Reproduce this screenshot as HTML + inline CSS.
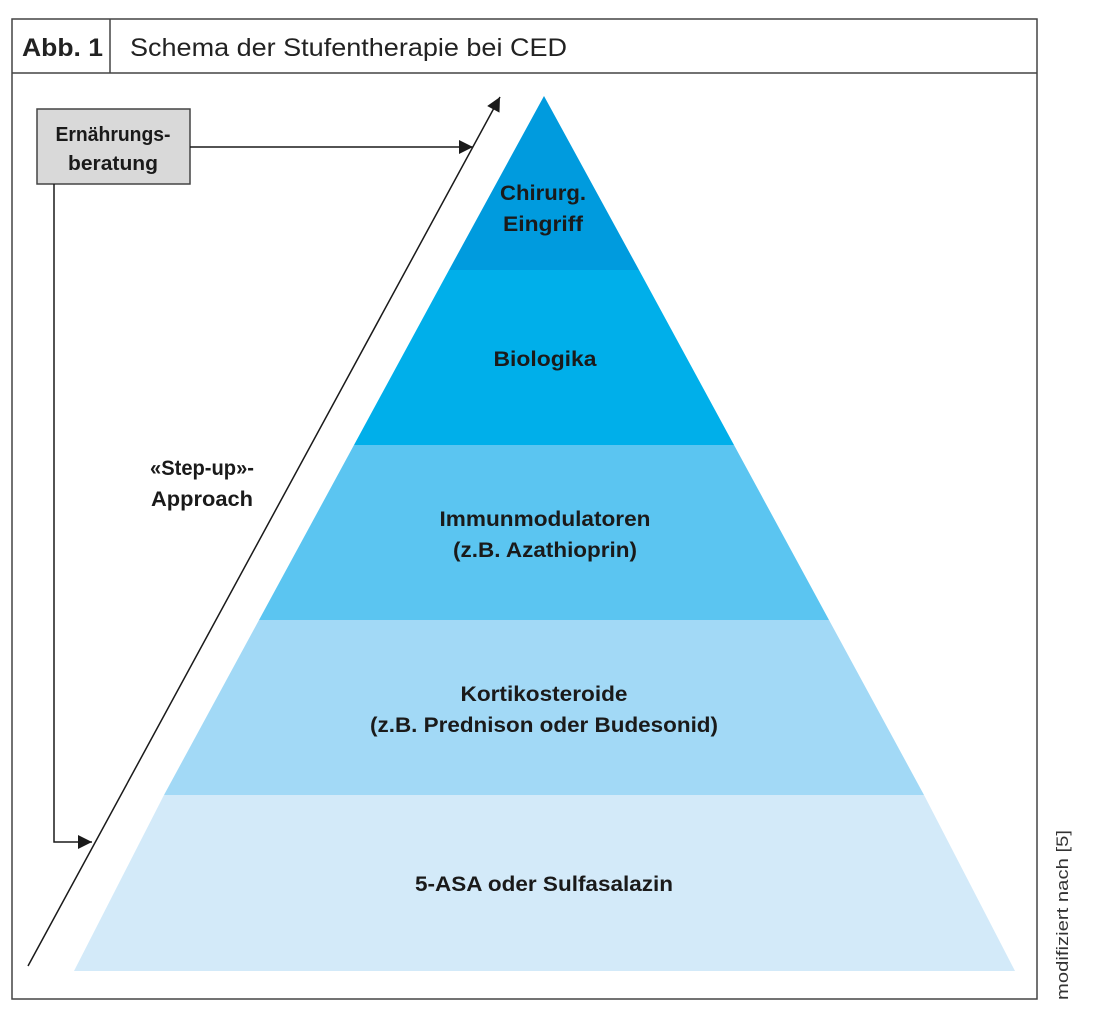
<!DOCTYPE html>
<html><head><meta charset="utf-8"><style>
body{margin:0;background:#fff;width:1100px;height:1021px;overflow:hidden}
</style></head><body>
<svg width="1100" height="1021" viewBox="0 0 1100 1021" xmlns="http://www.w3.org/2000/svg" font-family="Liberation Sans, sans-serif">
<defs><marker id="b" viewBox="0 0 10 10" refX="10" refY="5" markerWidth="18" markerHeight="14" markerUnits="userSpaceOnUse" orient="auto"><path d="M0,0 L10,5 L0,10Z" fill="#1a1a1a"/></marker></defs>
<rect x="12" y="19" width="1025" height="980" fill="none" stroke="#444" stroke-width="1.5"/>
<line x1="12" y1="73" x2="1037" y2="73" stroke="#444" stroke-width="1.5"/>
<line x1="110" y1="19" x2="110" y2="73" stroke="#444" stroke-width="1.5"/>
<text x="22" y="56" font-size="25" font-weight="bold" fill="#222" textLength="81" lengthAdjust="spacingAndGlyphs">Abb. 1</text>
<text x="130" y="56" font-size="25" fill="#222" textLength="437" lengthAdjust="spacingAndGlyphs">Schema der Stufentherapie bei CED</text>
<polygon points="544,96 639,270 449,270" fill="#009bde"/>
<polygon points="449,270 639,270 734,445 354,445" fill="#00afea"/>
<polygon points="354,445 734,445 829,620 259,620" fill="#5bc5f1"/>
<polygon points="259,620 829,620 924,795 164,795" fill="#a2d9f6"/>
<polygon points="164,795 924,795 1015,971 74,971" fill="#d3eaf9"/>
<g font-size="21" font-weight="bold" fill="#1a1a1a" text-anchor="middle" lengthAdjust="spacingAndGlyphs">
<text x="543" y="200" textLength="86" lengthAdjust="spacingAndGlyphs">Chirurg.</text>
<text x="543" y="231" textLength="80" lengthAdjust="spacingAndGlyphs">Eingriff</text>
<text x="545" y="366" textLength="103" lengthAdjust="spacingAndGlyphs">Biologika</text>
<text x="545" y="526" textLength="211" lengthAdjust="spacingAndGlyphs">Immunmodulatoren</text>
<text x="545" y="557" textLength="184" lengthAdjust="spacingAndGlyphs">(z.B. Azathioprin)</text>
<text x="544" y="701" textLength="167" lengthAdjust="spacingAndGlyphs">Kortikosteroide</text>
<text x="544" y="732" textLength="348" lengthAdjust="spacingAndGlyphs">(z.B. Prednison oder Budesonid)</text>
<text x="544" y="891" textLength="258" lengthAdjust="spacingAndGlyphs">5-ASA oder Sulfasalazin</text>
<text x="202" y="475" textLength="104" lengthAdjust="spacingAndGlyphs">«Step-up»-</text>
<text x="202" y="506" textLength="102" lengthAdjust="spacingAndGlyphs">Approach</text>
</g>
<rect x="37" y="109" width="153" height="75" fill="#d9d9d9" stroke="#444" stroke-width="1.5"/>
<text x="113" y="141" font-size="20" font-weight="bold" text-anchor="middle" fill="#1a1a1a" textLength="115" lengthAdjust="spacingAndGlyphs">Ernährungs-</text>
<text x="113" y="170" font-size="20" font-weight="bold" text-anchor="middle" fill="#1a1a1a" textLength="90" lengthAdjust="spacingAndGlyphs">beratung</text>
<line x1="28" y1="966" x2="500" y2="97" stroke="#1a1a1a" stroke-width="1.5" marker-end="url(#b)"/>
<line x1="190" y1="147" x2="473" y2="147" stroke="#1a1a1a" stroke-width="1.5" marker-end="url(#b)"/>
<polyline points="54,184 54,842 92,842" fill="none" stroke="#1a1a1a" stroke-width="1.5" marker-end="url(#b)"/>
<text transform="translate(1068,1000) rotate(-90)" font-size="17" fill="#333" textLength="170" lengthAdjust="spacingAndGlyphs">modifiziert nach [5]</text>
</svg>
</body></html>
